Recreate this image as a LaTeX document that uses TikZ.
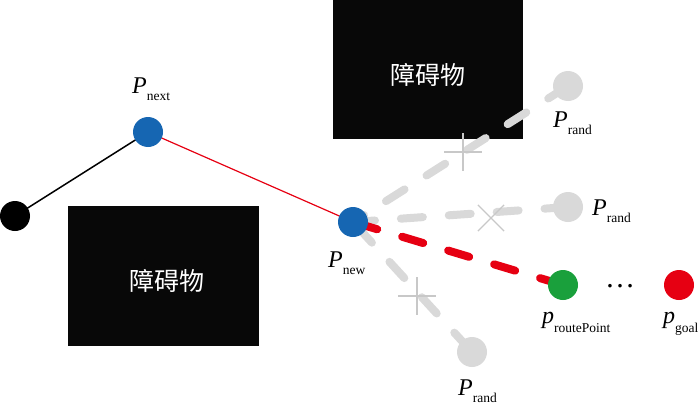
\documentclass[tikz,border=0pt]{standalone}
\usepackage{fontspec}
\setmainfont{Liberation Serif}
\newfontfamily\cjk{Noto Sans CJK SC}
\usetikzlibrary{shapes.misc}
\definecolor{cblue}{RGB}{22,102,178}
\definecolor{cgreen}{RGB}{26,160,60}
\definecolor{cred}{RGB}{230,0,18}
\definecolor{cgray}{RGB}{217,217,217}
\definecolor{cxgray}{RGB}{200,200,200}
\definecolor{cobst}{RGB}{8,8,8}
\pgfdeclarelayer{back}
\pgfdeclarelayer{bg}
\pgfsetlayers{back,bg,main}
\newcommand\plab[3][7pt]{{\fontsize{24}{24}\selectfont\itshape #2}\raisebox{-#1}{\fontsize{13.5}{13.5}\selectfont #3}}
\tikzset{
  pt/.style={circle, minimum size=30pt, inner sep=0pt, draw=none},
  obst/.style={rectangle, fill=cobst, draw=none, inner sep=0pt, anchor=north west},
  obsttext/.style={text=white, font=\cjk\fontsize{25}{25}\selectfont, inner sep=0pt},
  lab/.style={anchor=base west, inner sep=0pt},
  graydash/.style={draw=cgray, line width=8pt, line cap=round, dash pattern=on 22pt off 26pt},
  reddash/.style={draw=cred, line width=8pt, line cap=round, dash pattern=on 22pt off 26pt},
  xmark/.style={cross out, draw=cxgray, line width=1.2pt, inner sep=0pt}
}
\begin{document}
\begin{tikzpicture}[x=1pt, y=-1pt]
\useasboundingbox (0,0) rectangle (700,404);
% obstacles
\begin{pgfonlayer}{back}
\node[obst, minimum width=190pt, minimum height=139pt] (obs1) at (333,0) {};
\node[obsttext] (obs1t) at (428,75) {障碍物};
\node[obst, minimum width=191pt, minimum height=140pt] (obs2) at (68,206) {};
\node[obsttext] (obs2t) at (167,281) {障碍物};
\end{pgfonlayer}
% points
\node[pt, fill=black] (start) at (15,216) {};
\node[pt, fill=cblue] (next) at (148,132) {};
\node[pt, fill=cblue] (new) at (353,222) {};
\node[pt, fill=cgray] (r1) at (568,86) {};
\node[pt, fill=cgray] (r2) at (568,207) {};
\node[pt, fill=cgray] (r3) at (472,352) {};
\node[pt, fill=cgreen] (route) at (563,285) {};
\node[pt, fill=cred] (goal) at (679,285) {};
% connectors
\begin{pgfonlayer}{bg}
\draw[black, line width=1.5pt] (start.center) -- (next.center);
\draw[cred, line width=1.2pt] (next.center) -- (new.center);
\draw[graydash, dash phase=9pt] (new.center) -- (r1.center);
\draw[graydash, dash phase=0pt] (new.center) -- (r2.center);
\draw[graydash, dash phase=42pt] (new.center) -- (r3.center);
\draw[reddash, dash phase=44.7pt] (new.center) -- (route.center);
\end{pgfonlayer}
% crosses
\node[xmark, minimum size=25pt, rotate=45] (x1) at (463,152) {};
\node[xmark, minimum size=25pt] (x2) at (491,218) {};
\node[xmark, minimum size=25pt, rotate=45] (x3) at (417,296) {};
% dots
\node[anchor=base, inner sep=0pt, font=\fontsize{30}{30}\selectfont] (dots) at (620,287) {…};
% labels
\node[lab] (lnext) at (132,93) {\plab{P}{next}};
\node[lab] (lnew) at (328,267) {\plab{P}{new}};
\node[lab] (lr1) at (553,127) {\plab{P}{rand}};
\node[lab] (lr2) at (592,215) {\plab{P}{rand}};
\node[lab] (lr3) at (458,395) {\plab{P}{rand}};
\node[lab] (lroute) at (542,323) {\plab[9pt]{p}{routePoint}};
\node[lab] (lgoal) at (663,323) {\plab[9pt]{p}{goal}};
\end{tikzpicture}
\end{document}
